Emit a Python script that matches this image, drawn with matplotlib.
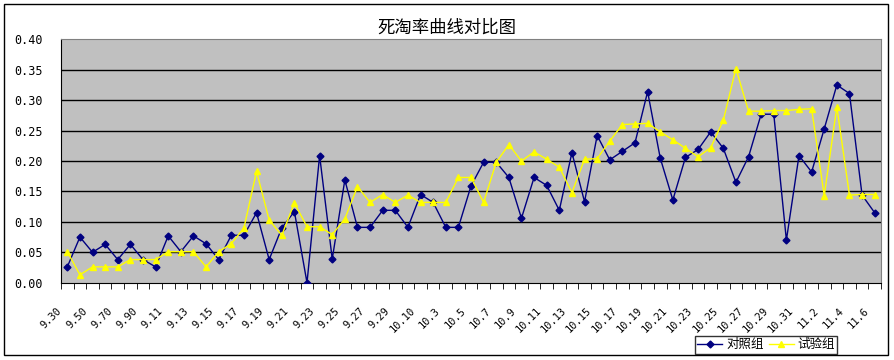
import matplotlib
matplotlib.use("Agg")
import matplotlib.pyplot as plt
import matplotlib.transforms as mtransforms
from matplotlib.patches import Rectangle

plt.rcParams['font.family'] = ['Noto Sans CJK SC', 'DejaVu Sans']

title = "死淘率曲线对比图"
series_names = ["对照组", "试验组"]

dates = ["9.30", "9.4", "9.50", "9.6", "9.70", "9.8", "9.90", "9.10", "9.11", "9.12",
         "9.13", "9.14", "9.15", "9.16", "9.17", "9.18", "9.19", "9.20", "9.21", "9.22",
         "9.23", "9.24", "9.25", "9.26", "9.27", "9.28", "9.29", "9.30", "10.10", "10.2",
         "10.3", "10.4", "10.5", "10.6", "10.7", "10.8", "10.9", "10.10", "10.11", "10.12",
         "10.13", "10.14", "10.15", "10.16", "10.17", "10.18", "10.19", "10.20", "10.21", "10.22",
         "10.23", "10.24", "10.25", "10.26", "10.27", "10.28", "10.29", "10.30", "10.31", "11.1",
         "11.2", "11.3", "11.4", "11.5", "11.6"]

control = [0.026, 0.075, 0.050, 0.063, 0.038, 0.063, 0.038, 0.026, 0.077, 0.051,
           0.077, 0.064, 0.038, 0.078, 0.078, 0.115, 0.038, 0.090, 0.117, 0.000,
           0.209, 0.039, 0.169, 0.091, 0.091, 0.119, 0.119, 0.091, 0.145, 0.132,
           0.091, 0.091, 0.159, 0.198, 0.198, 0.173, 0.106, 0.173, 0.160, 0.119,
           0.214, 0.133, 0.242, 0.202, 0.216, 0.230, 0.314, 0.205, 0.136, 0.206,
           0.219, 0.248, 0.221, 0.165, 0.207, 0.277, 0.277, 0.070, 0.209, 0.182,
           0.253, 0.325, 0.311, 0.144, 0.115]

trial = [0.051, 0.013, 0.026, 0.026, 0.026, 0.038, 0.038, 0.038, 0.051, 0.051,
         0.051, 0.026, 0.051, 0.064, 0.090, 0.183, 0.103, 0.078, 0.131, 0.092,
         0.092, 0.079, 0.105, 0.158, 0.132, 0.145, 0.132, 0.144, 0.132, 0.132,
         0.132, 0.173, 0.173, 0.132, 0.198, 0.227, 0.200, 0.215, 0.203, 0.190,
         0.148, 0.203, 0.204, 0.233, 0.260, 0.261, 0.262, 0.248, 0.235, 0.221,
         0.207, 0.222, 0.267, 0.352, 0.282, 0.282, 0.283, 0.283, 0.285, 0.286,
         0.143, 0.289, 0.144, 0.145, 0.145]

y_ticks = [0.00, 0.05, 0.10, 0.15, 0.20, 0.25, 0.30, 0.35, 0.40]

fig = plt.figure(figsize=(8.94, 3.6), dpi=100)
ax = fig.add_axes([61 / 894, 1 - 282.7 / 360, 820 / 894, (282.7 - 39.4) / 360])
ax.set_facecolor('#C0C0C0')

x = list(range(len(dates)))
ax.plot(x, control, color='#000080', lw=1, marker='D', ms=3.5, label=series_names[0], zorder=3)
ax.plot(x, trial, color='#FFFF00', lw=1, marker='^', ms=4.5, label=series_names[1], zorder=3)

ax.set_xlim(-0.5, len(dates) - 0.5)
ax.set_ylim(0, 0.40)
ax.set_yticks(y_ticks)
ax.set_yticklabels(["%.2f" % v for v in y_ticks], family='DejaVu Sans Mono', fontsize=8.5)
ax.tick_params(axis='y', length=0, pad=13)
for v in y_ticks[1:-1]:
    ax.axhline(v, color='black', lw=1, zorder=1)

ax.set_xticks(x[::2])
ax.set_xticklabels(dates[::2], rotation=45, ha='right', va='center',
                   rotation_mode='anchor', family='DejaVu Sans Mono', fontsize=7.5)
ax.tick_params(axis='x', which='major', length=0, pad=19)
shift = mtransforms.ScaledTranslation(-0.07, 0, fig.dpi_scale_trans)
for lab in ax.get_xticklabels():
    lab.set_transform(lab.get_transform() + shift)
ax.set_xticks([i - 0.5 for i in range(len(dates) + 1)], minor=True)
ax.tick_params(axis='x', which='minor', length=4, direction='out', color='black')

ax.spines['left'].set_color('black')
ax.spines['bottom'].set_color('black')
ax.spines['top'].set_color('#808080')
ax.spines['right'].set_color('#808080')

fig.text(0.5, 1 - 28 / 360, title, ha='center', va='center', fontsize=12.5)

leg = fig.legend(loc='center', bbox_to_anchor=(766 / 894, 1 - 344.5 / 360), ncol=2,
                 fontsize=9, frameon=True, fancybox=False, edgecolor='black',
                 handlelength=2.0, columnspacing=0.4, handletextpad=0.3,
                 borderpad=0.2, borderaxespad=0)
leg.get_frame().set_linewidth(1)

fig.patches.append(Rectangle((4 / 894, 1 - 355 / 360), 884 / 894, 351 / 360,
                             transform=fig.transFigure, fill=False,
                             edgecolor='black', lw=1))

fig.savefig('out.png', dpi=100)
